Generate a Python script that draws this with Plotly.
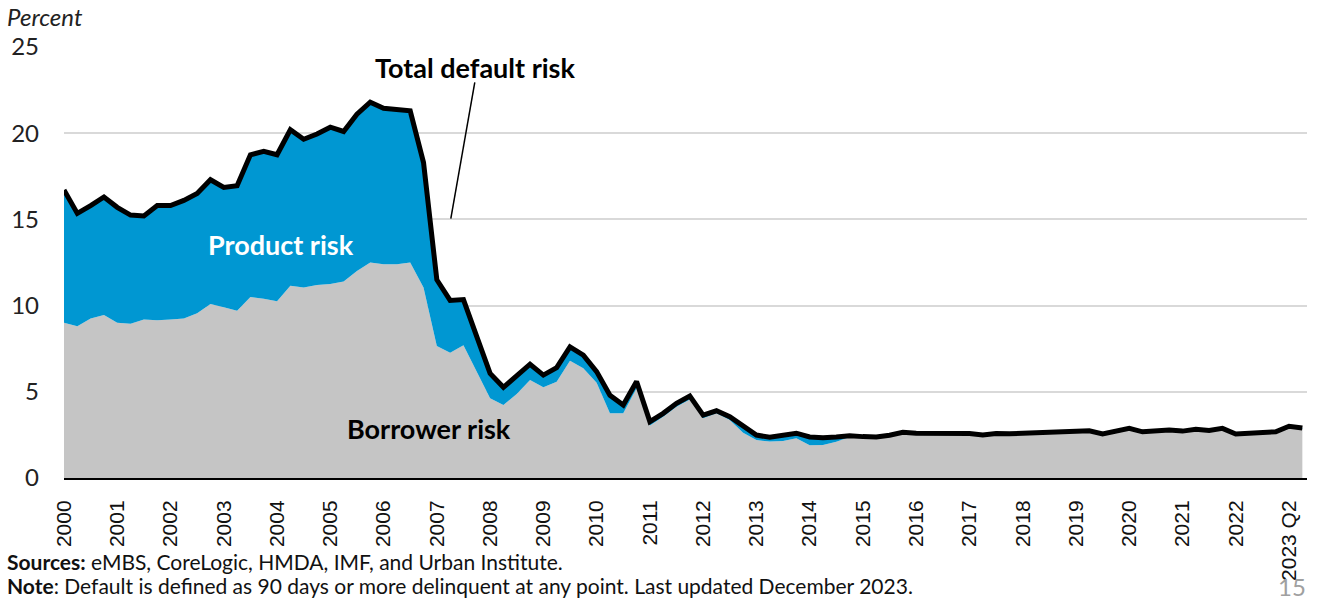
import plotly.graph_objects as go

# Quarterly observations, 2000 Q1 through 2023 Q2
quarters = [f"{y} Q{q}" for y in range(2000, 2024) for q in range(1, 5)][:94]

# Total default risk (percent)
total_risk = [
    16.7, 15.35, 15.8, 16.3, 15.7, 15.25, 15.2, 15.8, 15.8, 16.1,
    16.5, 17.3, 16.85, 16.95, 18.75, 18.95, 18.75, 20.2, 19.65, 19.95,
    20.35, 20.1, 21.1, 21.8, 21.45, 21.35, 21.3, 18.3, 11.5, 10.3,
    10.35, 8.2, 6.07, 5.26, 5.9, 6.6, 5.97, 6.4, 7.6, 7.13,
    6.17, 4.8, 4.23, 5.6, 3.27, 3.75, 4.33, 4.75, 3.65, 3.9,
    3.56, 2.98, 2.49, 2.36, 2.47, 2.6, 2.38, 2.33, 2.38, 2.45,
    2.40, 2.38, 2.48, 2.65, 2.60, 2.60, 2.60, 2.63, 2.58, 2.50,
    2.58, 2.56, 2.60, 2.62, 2.64, 2.72, 2.76, 2.74, 2.55, 2.75,
    2.88, 2.68, 2.72, 2.78, 2.72, 2.82, 2.75, 2.88, 2.55, 2.60,
    2.60, 2.68, 3.00, 2.90,
]

# Borrower risk component (percent); product risk is the gap up to the total
borrower_risk = [
    9.0, 8.8, 9.25, 9.45, 9.0, 8.95, 9.2, 9.15, 9.2, 9.25,
    9.55, 10.1, 9.9, 9.7, 10.5, 10.4, 10.25, 11.15, 11.05, 11.2,
    11.25, 11.4, 12.0, 12.5, 12.4, 12.4, 12.5, 11.05, 7.66, 7.27,
    7.7, 6.17, 4.62, 4.23, 4.87, 5.68, 5.26, 5.59, 6.8, 6.36,
    5.53, 3.75, 3.75, 5.2, 3.05, 3.56, 4.14, 4.56, 3.46, 3.75,
    3.36, 2.63, 2.2, 2.11, 2.15, 2.3, 1.9, 1.92, 2.1, 2.38,
    2.36, 2.34, 2.44, 2.61, 2.56, 2.56, 2.56, 2.59, 2.54, 2.46,
    2.54, 2.52, 2.56, 2.58, 2.60, 2.68, 2.72, 2.70, 2.51, 2.71,
    2.84, 2.64, 2.68, 2.74, 2.68, 2.78, 2.71, 2.84, 2.51, 2.56,
    2.56, 2.64, 2.96, 2.86,
]

tick_positions = list(range(0, 93, 4))
tick_labels = [str(y) for y in range(2000, 2023)] + ["2023 Q2"]

GREY = "#c5c5c5"
BLUE = "#0097d2"
FONT = "Lato"

x = list(range(len(quarters)))

fig = go.Figure()
fig.add_trace(go.Scatter(
    x=x, y=borrower_risk, mode="lines", line=dict(width=0, color=GREY),
    fill="tozeroy", fillcolor=GREY, hoverinfo="skip", showlegend=False,
    customdata=quarters,
))
fig.add_trace(go.Scatter(
    x=x, y=total_risk, mode="lines", line=dict(width=5, color="black"),
    fill="tonexty", fillcolor=BLUE, showlegend=False,
    customdata=quarters, hovertemplate="%{customdata}: %{y:.1f}%<extra></extra>",
))

# Leader line for the total label
fig.add_shape(type="line", xref="x", yref="y", x0=30.85, y0=22.95, x1=29.05, y1=15.05,
              line=dict(color="black", width=1.5))

annotations = [
    dict(x=30.9, y=23.8, text="<b>Total default risk</b>", font=dict(size=27, color="black")),
    dict(x=16.3, y=13.55, text="<b>Product risk</b>", font=dict(size=27, color="white")),
    dict(x=27.4, y=2.85, text="<b>Borrower risk</b>", font=dict(size=27, color="black")),
]
for a in annotations:
    fig.add_annotation(xref="x", yref="y", showarrow=False, xanchor="center", yanchor="middle", **a)

fig.add_annotation(xref="paper", yref="paper", x=-59/1245, y=1 + 30/431, xanchor="left",
                   yanchor="middle", showarrow=False,
                   text="<i>Percent</i>", font=dict(size=24, color="#222"))
footer = dict(xref="paper", yref="paper", x=-58/1245, xanchor="left", yanchor="middle",
              showarrow=False, borderpad=0, font=dict(size=21, color="#111"))
fig.add_annotation(y=-83/431,
                   text="<b>Sources:</b> eMBS, CoreLogic, HMDA, IMF, and Urban Institute.",
                   **footer)
fig.add_annotation(y=-107/431,
                   text="<b>Note</b>: Default is defined as 90 days or more delinquent at any point. Last updated December 2023.",
                   **footer)
fig.add_annotation(xref="paper", yref="paper", x=1.0, y=-108/431, xanchor="right",
                   yanchor="middle", showarrow=False, borderpad=0,
                   text="15", font=dict(size=24, color="#a0a0a0"))

fig.update_layout(
    width=1318, height=601,
    margin=dict(l=62, r=11, t=47, b=123),
    plot_bgcolor="white", paper_bgcolor="white",
    font=dict(family=FONT, color="#222"),
    xaxis=dict(
        range=[0, 93.35], tickmode="array", tickvals=tick_positions, ticktext=tick_labels,
        tickangle=-90, tickfont=dict(family="Liberation Sans, Arial", size=21, color="#111"),
        showgrid=False, showline=True, linecolor="black", linewidth=2, ticks="",
        ticklabelstandoff=12, zeroline=False,
    ),
    yaxis=dict(
        range=[0, 25], tickvals=[0, 5, 10, 15, 20, 25], showgrid=True,
        gridcolor="#d9d9d9", gridwidth=2, zeroline=False, showline=False,
        tickfont=dict(family=FONT, size=24, color="#222"), ticks="", ticklabelstandoff=24,
    ),
)

fig.write_html("out.html")
